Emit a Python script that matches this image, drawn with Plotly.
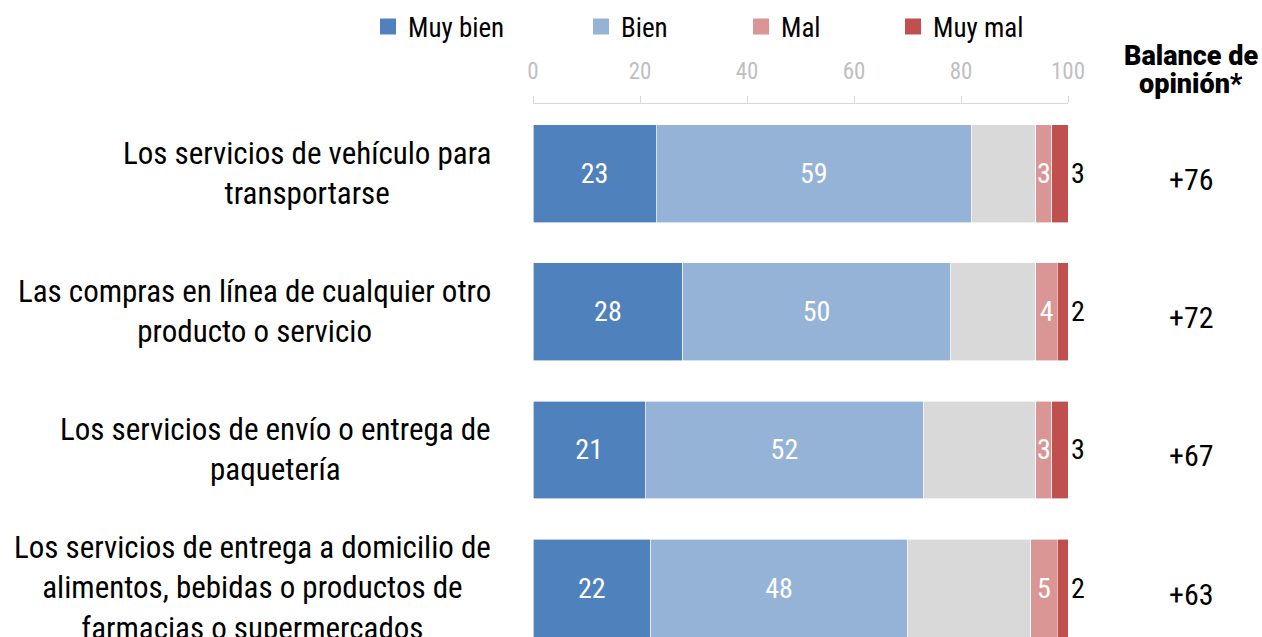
import plotly.graph_objects as go

# Opinión sobre servicios digitales (porcentajes)
categorias = [
    "Los servicios de vehículo para<br>transportarse",
    "Las compras en línea de cualquier otro<br>producto o servicio",
    "Los servicios de envío o entrega de<br>paquetería",
    "Los servicios de entrega a domicilio de<br>alimentos, bebidas o productos de<br>farmacias o supermercados",
]
muy_bien = [23, 28, 21, 22]
bien = [59, 50, 52, 48]
ns_nc = [12, 16, 21, 23]
mal = [3, 4, 3, 5]
muy_mal = [3, 2, 3, 2]
balance = ["+76", "+72", "+67", "+63"]
ticks_x = [0, 20, 40, 60, 80, 100]

FUENTE = "Roboto Condensed, Liberation Sans Narrow, Roboto, sans-serif"

fig = go.Figure()

series = [
    ("Muy bien", muy_bien, "#4f81bd", "legend"),
    ("Bien", bien, "#95b3d7", "legend2"),
    ("NS/NC", ns_nc, "#d9d9d9", None),
    ("Mal", mal, "#da9694", "legend3"),
    ("Muy mal", muy_mal, "#c0504d", "legend4"),
]
for nombre, valores, color, leyenda in series:
    traza = dict(
        x=valores, y=categorias, name=nombre, orientation="h", showlegend=False,
        marker=dict(color=color, line=dict(color="white", width=0.6)),
        cliponaxis=False, constraintext="none",
    )
    if leyenda is None:
        traza.update(hoverinfo="skip")
    else:
        traza.update(texttemplate="%{x}")
    if nombre == "Muy mal":
        traza.update(textposition="outside",
                     outsidetextfont=dict(family=FUENTE, size=28, color="black"))
    elif leyenda is not None:
        traza.update(textposition="inside", insidetextanchor="middle",
                     insidetextfont=dict(family=FUENTE, size=28, color="white"))
    fig.add_trace(go.Bar(**traza))

# entradas de leyenda con cuadrado de 16 px
for nombre, valores, color, leyenda in series:
    if leyenda is None:
        continue
    fig.add_trace(go.Scatter(x=[None], y=[None], mode="markers", name=nombre,
                             legend=leyenda, showlegend=True,
                             marker=dict(symbol="square", size=16, color=color)))

# etiquetas de categoria centradas a la izquierda
for cat in categorias:
    fig.add_annotation(x=0, xref="paper", y=cat, yref="y", text=cat,
                       xanchor="right", xshift=-40, align="center", showarrow=False,
                       font=dict(family=FUENTE, size=31, color="black"))

# columna de balance de opinion
for cat, b in zip(categorias, balance):
    fig.add_annotation(x=(1191 - 533) / 535, xref="paper", y=cat, yref="y", text=b,
                       xanchor="center", yshift=-6, showarrow=False,
                       font=dict(family=FUENTE, size=30, color="black"))
for texto, ypx in [("Balance de", 56), ("opinión*", 84)]:
    fig.add_annotation(x=(1191 - 533) / 535, xref="paper", y=1 + (104 - ypx) / 533,
                       yref="paper", text=texto, xanchor="center", yanchor="middle",
                       showarrow=False,
                       font=dict(family="Roboto", size=27, weight=900, color="black"))

ley = dict(orientation="h", yanchor="middle", y=1 + (104 - 27) / 533, xanchor="left",
           font=dict(family=FUENTE, size=27, color="black"), bgcolor="rgba(0,0,0,0)")
fig.update_layout(
    legend=dict(ley, x=(368 - 533) / 535),
    legend2=dict(ley, x=(581 - 533) / 535),
    legend3=dict(ley, x=(741 - 533) / 535),
    legend4=dict(ley, x=(893 - 533) / 535),
)

fig.update_layout(
    width=1262, height=637, autosize=False,
    margin=dict(l=533, r=194, t=104, b=0),
    barmode="stack", bargap=0.29,
    plot_bgcolor="white", paper_bgcolor="white",
    font=dict(family=FUENTE),
    xaxis=dict(side="top", range=[0, 100], tickvals=ticks_x, ticks="outside",
               ticklen=7, tickcolor="#d9d9d9", showline=True, linecolor="#d9d9d9",
               showgrid=False, zeroline=False, ticklabelstandoff=8,
               tickfont=dict(family=FUENTE, size=23, color="#bfbfbf")),
    yaxis=dict(type="category", categoryorder="array", categoryarray=categorias,
               range=[3.355, -0.507], showticklabels=False, showgrid=False,
               zeroline=False, showline=False),
)

# sin margen de pagina para que la figura ocupe la ventana completa
fig.write_html("out.html", config={"displayModeBar": False},
               post_script="document.body.style.margin = '0';")
